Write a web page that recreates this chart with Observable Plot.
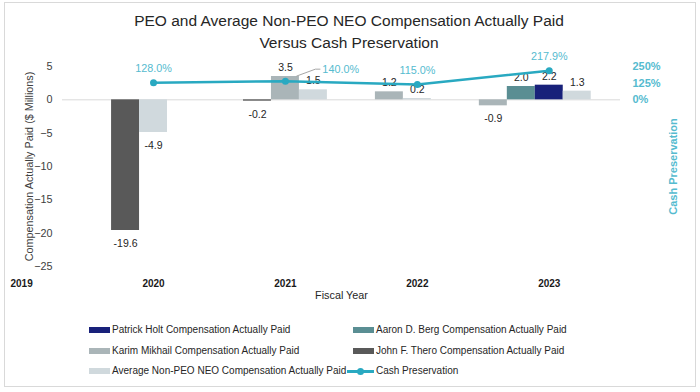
<!DOCTYPE html>
<html><head><meta charset="utf-8">
<script src="https://cdn.jsdelivr.net/npm/d3@7"></script>
<script src="https://cdn.jsdelivr.net/npm/@observablehq/plot@0.6"></script>
<style>
body{margin:0;background:#fff;font-family:"Liberation Sans",Arial,sans-serif;}
#wrap{position:relative;width:700px;height:392px;overflow:hidden;background:#fff;}
#frame{position:absolute;left:4px;top:2px;width:690px;height:383px;border:1px solid #d9d9d9;}
#title{position:absolute;left:0;top:10px;width:698px;text-align:center;font-size:15.5px;line-height:22px;color:#262626;}
#chart{position:absolute;left:0;top:55px;}
.leg{position:absolute;font-size:10px;color:#262626;white-space:nowrap;line-height:12px;}
.sw{position:absolute;}
</style></head><body>
<div id="wrap">
<div id="frame"></div>
<div id="title">PEO and Average Non-PEO NEO Compensation Actually Paid<br>Versus Cash Preservation</div>
<div id="chart"></div>
<div id="legend"></div>
</div>
<script>
// ---- data ----
const years = [2019, 2020, 2021, 2022, 2023];
const theroCAP = [null, -19.6, -0.2, null, null];
const mikhailCAP = [null, null, 3.5, 1.2, -0.9];
const bergCAP = [null, null, null, null, 2.0];
const holtCAP = [null, null, null, null, 2.2];
const avgNonPeoCAP = [null, -4.9, 1.5, 0.2, 1.3];
const cashPreservation = [null, 128.0, 140.0, 115.0, 217.9];
const yTicks = [5, 0, -5, -10, -15, -20, -25];
const pctTicks = [0, 125, 250];
const cashName = "Cash Preservation";
const xTitle = "Fiscal Year";
const yTitle = "Compensation Actually Paid ($ Millions)";

// ---- series (left-to-right order inside a year) ----
const seriesDefs = [
  {name: "John F. Thero Compensation Actually Paid", values: theroCAP, color: "#595959"},
  {name: "Karim Mikhail Compensation Actually Paid", values: mikhailCAP, color: "#aab5b8"},
  {name: "Aaron D. Berg Compensation Actually Paid", values: bergCAP, color: "#5a8e93"},
  {name: "Patrick Holt Compensation Actually Paid", values: holtCAP, color: "#18217a"},
  {name: "Average Non-PEO NEO Compensation Actually Paid", values: avgNonPeoCAP, color: "#d0d9dd"}
];
const teal = "#29a9c1";
const tealText = "#55bbcf";
const ratio = pctTicks[pctTicks.length - 1] / yTicks[0]; // % per $M on the shared y scale
const barW = 0.212;

const bars = [];
years.forEach((yr, j) => {
  const present = seriesDefs.filter(s => s.values[j] != null);
  const mid = Math.floor(present.length / 2);
  present.forEach((s, i) => {
    const k = i - mid;
    bars.push({year: yr, series: s.name, value: s.values[j], k,
      x1: yr + (k - 0.5) * barW, x2: yr + (k + 0.5) * barW, xc: yr + k * barW});
  });
});
const cash = years.map((yr, j) => ({year: yr, pct: cashPreservation[j]}))
  .filter(d => d.pct != null)
  .map(d => {
    const center = bars.find(b => b.year === d.year && b.k === 0);
    const y = d.pct / ratio;
    return {...d, y, callout: center != null && center.value > y};
  });
const plainCash = cash.filter(d => !d.callout);
const calloutCash = cash.filter(d => d.callout);

const font = '"Liberation Sans", Arial, sans-serif';
const chart = Plot.plot({
  width: 700, height: 255,
  marginTop: 11, marginBottom: 44, marginLeft: 62, marginRight: 80,
  style: {fontFamily: font, fontSize: "10.5px", color: "#404040", background: "transparent", overflow: "visible"},
  x: {type: "linear", domain: [years[1] - 0.69, years[years.length - 1] + 0.54]},
  y: {domain: [yTicks[yTicks.length - 1], yTicks[0]]},
  color: {domain: seriesDefs.map(s => s.name), range: seriesDefs.map(s => s.color)},
  marks: [
    Plot.ruleY([0], {stroke: "#d9d9d9", strokeWidth: 1}),
    Plot.rect(bars, {x1: "x1", x2: "x2", y1: 0, y2: "value", fill: "series"}),
    Plot.text(bars.filter(d => d.value >= 0), {x: "xc", y: "value", text: d => d.value.toFixed(1), dy: -9, fill: "#262626", fontSize: 10.5}),
    Plot.text(bars.filter(d => d.value < 0), {x: "xc", y: "value", text: d => d.value.toFixed(1), dy: 13, fill: "#262626", fontSize: 10.5}),
    Plot.line(cash, {x: "year", y: "y", stroke: teal, strokeWidth: 2.5}),
    Plot.dot(cash, {x: "year", y: "y", r: 3.5, fill: teal}),
    Plot.text(plainCash, {x: "year", y: "y", text: d => d.pct.toFixed(1) + "%", dy: -14, fill: tealText, fontSize: 10.8}),
    Plot.link(calloutCash, {x1: d => d.year + 0.083, y1: d => d.y + 0.75, x2: d => d.year + 0.227, y2: d => d.y + 1.8, stroke: "#a6a6a6"}),
    Plot.link(calloutCash, {x1: d => d.year + 0.227, y1: d => d.y + 1.8, x2: d => d.year + 0.265, y2: d => d.y + 1.8, stroke: "#a6a6a6"}),
    Plot.text(calloutCash, {x: d => d.year + 0.28, y: d => d.y + 1.8, text: d => d.pct.toFixed(1) + "%", textAnchor: "start", fill: tealText, fontSize: 10.8}),
    Plot.axisY(yTicks, {anchor: "left", tickSize: 0, tickPadding: 10, fontSize: 10.8, fill: "#404040",
      label: yTitle, labelAnchor: "center", labelOffset: 37, labelArrow: "none"}),
    Plot.axisY(pctTicks.map(p => p / ratio), {anchor: "right", tickSize: 0, tickPadding: 12, fontSize: 11, fontWeight: "bold", fill: tealText,
      tickFormat: d => `${Math.round(d * ratio)}%`,
      label: cashName, labelAnchor: "center", labelOffset: 56, labelArrow: "none"}),
    Plot.axisX(years, {tickSize: 0, tickPadding: 13, fontWeight: "bold", fontSize: 10, fill: "#1a1a1a",
      tickFormat: d => String(d), label: null}),
    Plot.text([xTitle], {frameAnchor: "bottom", dy: 32, text: d => d, fill: "#262626", fontSize: 10.8})
  ]
});
document.getElementById("chart").appendChild(chart);

// ---- legend ----
const legendRows = [
  ["Patrick Holt Compensation Actually Paid", "Aaron D. Berg Compensation Actually Paid"],
  ["Karim Mikhail Compensation Actually Paid", "John F. Thero Compensation Actually Paid"],
  ["Average Non-PEO NEO Compensation Actually Paid", cashName]
];
const leg = document.getElementById("legend");
const colX = [89, 353];
const rowY = [330, 350.5, 371];
legendRows.forEach((row, r) => row.forEach((name, c) => {
  const cy = rowY[r], x = colX[c];
  if (name === cashName) {
    leg.insertAdjacentHTML("beforeend",
      `<div class="sw" style="left:${x - 6}px;top:${cy - 1}px;width:27px;height:2.5px;background:${teal}"></div>` +
      `<div class="sw" style="left:${x + 4}px;top:${cy - 3.3}px;width:7px;height:7px;border-radius:50%;background:${teal}"></div>`);
  } else {
    const s = seriesDefs.find(d => d.name === name);
    leg.insertAdjacentHTML("beforeend",
      `<div class="sw" style="left:${x}px;top:${cy - 3}px;width:21px;height:6px;background:${s.color}"></div>`);
  }
  leg.insertAdjacentHTML("beforeend", `<div class="leg" style="left:${x + 23}px;top:${cy - 6}px">${name}</div>`);
}));
</script>
</body></html>
